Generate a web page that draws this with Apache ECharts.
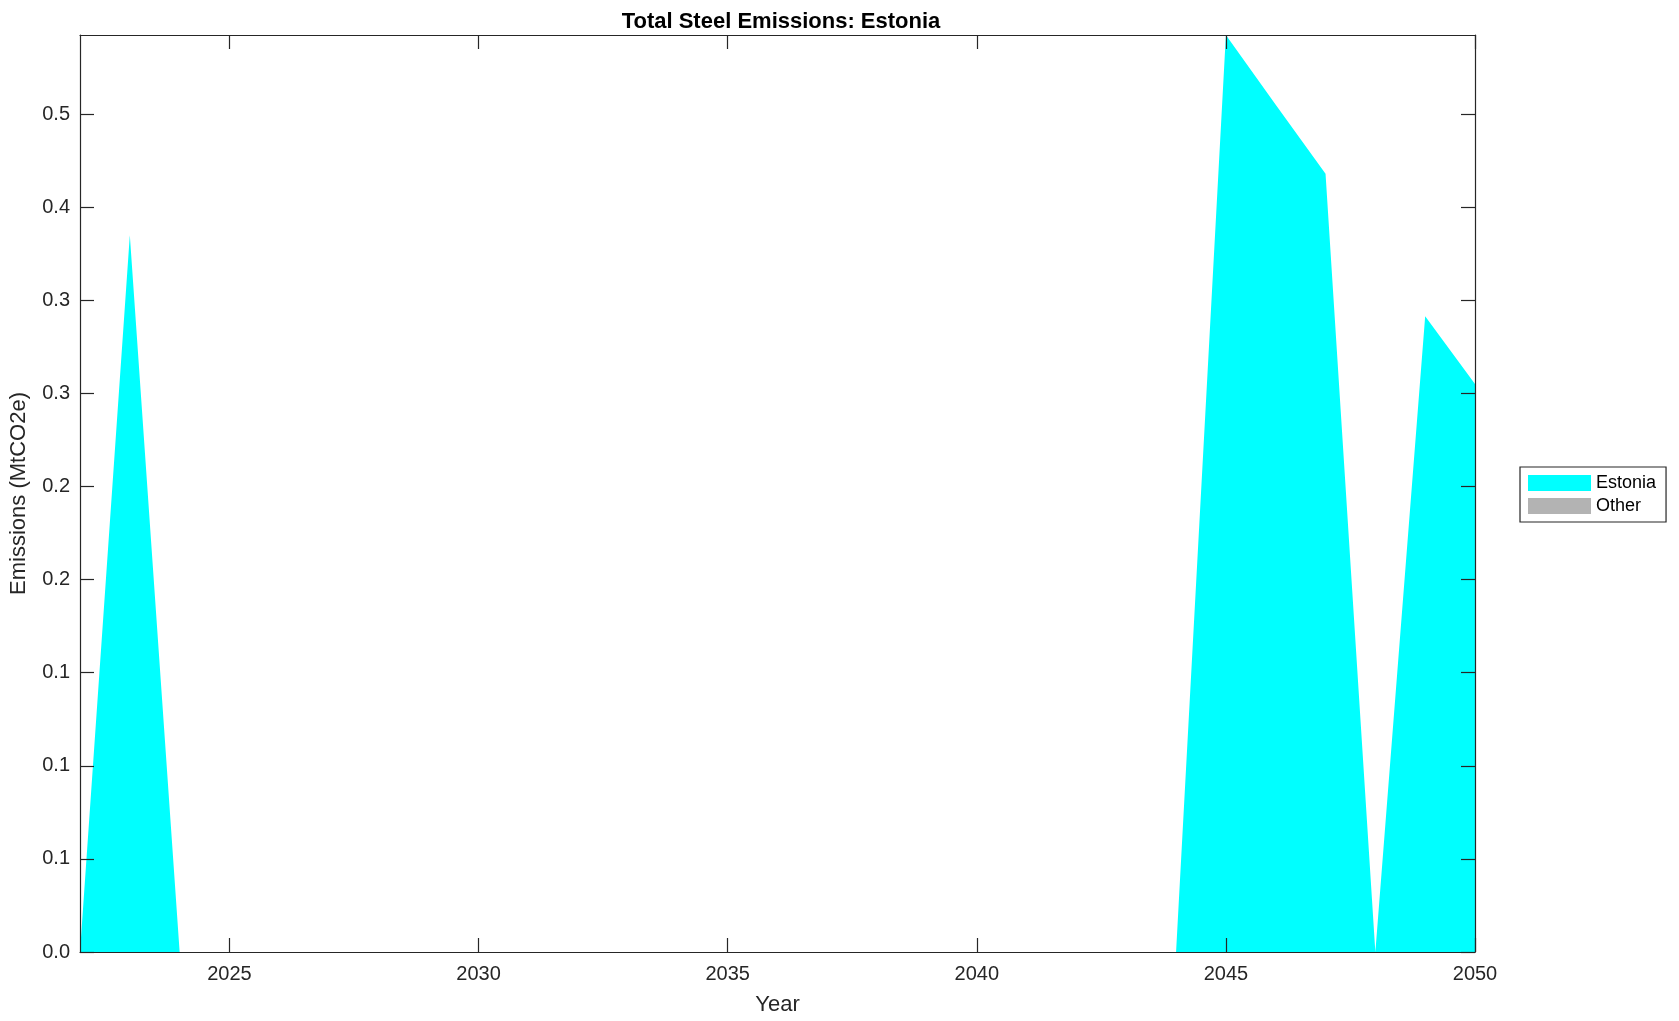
<!DOCTYPE html>
<html>
<head>
<meta charset="utf-8">
<script src="https://cdn.jsdelivr.net/npm/echarts@6/dist/echarts.min.js"></script>
<style>
html,body{margin:0;padding:0;background:#fff;}
#chart{width:1679px;height:1021px;}
</style>
</head>
<body>
<div id="chart"></div>
<script>
const years = [2022,2023,2024,2025,2026,2027,2028,2029,2030,2031,2032,2033,2034,2035,2036,2037,2038,2039,2040,2041,2042,2043,2044,2045,2046,2047,2048,2049,2050];
const estonia = [0,0.385,0,0,0,0,0,0,0,0,0,0,0,0,0,0,0,0,0,0,0,0,0,0.4925,0.455,0.418,0,0.3415,0.305];
const other = [0,0,0,0,0,0,0,0,0,0,0,0,0,0,0,0,0,0,0,0,0,0,0,0,0,0,0,0,0];
const xTickValues = [2025,2030,2035,2040,2045,2050];
const yTickValues = [0,0.05,0.1,0.15,0.2,0.25,0.3,0.35,0.4,0.45];
const yTickLabels = ['0.0','0.1','0.1','0.1','0.2','0.2','0.3','0.3','0.4','0.5'];
const yMax = 0.4925;

const FONT = '"Liberation Sans", Arial, Helvetica, sans-serif';
const AX = '#262626';
const chart = echarts.init(document.getElementById('chart'));

function pairs(vals){ return years.map((y,i)=>[y, vals[i]]); }

const commonX = {
  type:'value', min:2022, max:2050, z:5,
  axisLine:{show:true, onZero:false, lineStyle:{color:AX, width:1.2}},
  splitLine:{show:false}
};
const commonY = {
  type:'value', min:0, max:yMax, z:5,
  axisLine:{show:true, onZero:false, lineStyle:{color:AX, width:1.2}},
  splitLine:{show:false}
};

chart.setOption({
  animation:false,
  backgroundColor:'#ffffff',
  title:{
    text:'Total Steel Emissions: Estonia',
    left:776, top:6, textAlign:'center',
    textStyle:{fontFamily:FONT, fontSize:22, fontWeight:'bold', color:'#000'}
  },
  grid:{left:77, top:35, right:204, bottom:68, containLabel:false},
  legend:{
    orient:'vertical', left:1520, top:467,
    padding:[6,10,6,8], itemGap:3, itemWidth:63, itemHeight:16,
    borderColor:AX, borderWidth:1.2, backgroundColor:'#fff',
    icon:'rect',
    textStyle:{fontFamily:FONT, fontSize:18, lineHeight:20, color:'#000'},
    data:['Estonia','Other']
  },
  xAxis:[
    Object.assign({}, commonX, {
      position:'bottom',
      name:'Year', nameLocation:'middle', nameGap:42,
      nameTextStyle:{fontFamily:FONT, fontSize:22, color:AX},
      axisTick:{show:true, inside:true, length:14, customValues:xTickValues, lineStyle:{color:AX, width:1.2}},
      axisLabel:{show:true, customValues:xTickValues, fontFamily:FONT, fontSize:20, color:AX, margin:12,
        formatter:function(v){ return String(Math.round(v)); }}
    }),
    Object.assign({}, commonX, {
      position:'top',
      axisTick:{show:true, inside:true, length:14, customValues:xTickValues, lineStyle:{color:AX, width:1.2}},
      axisLabel:{show:false}
    })
  ],
  yAxis:[
    Object.assign({}, commonY, {
      position:'left',
      name:'Emissions (MtCO2e)', nameLocation:'middle', nameGap:50,
      nameTextStyle:{fontFamily:FONT, fontSize:22, color:AX},
      axisTick:{show:true, inside:true, length:14, customValues:yTickValues, lineStyle:{color:AX, width:1.2}},
      axisLabel:{show:true, customValues:yTickValues, fontFamily:FONT, fontSize:20, color:AX, margin:10,
        formatter:function(v){ const i = Math.round(v/0.05); return yTickLabels[i] !== undefined ? yTickLabels[i] : ''; }}
    }),
    Object.assign({}, commonY, {
      position:'right',
      axisTick:{show:true, inside:true, length:14, customValues:yTickValues, lineStyle:{color:AX, width:1.2}},
      axisLabel:{show:false}
    })
  ],
  series:[
    {
      name:'Estonia', type:'line', stack:'total', data:pairs(estonia),
      xAxisIndex:0, yAxisIndex:0,
      showSymbol:false, symbol:'none', smooth:false,
      itemStyle:{color:'#00ffff'},
      lineStyle:{width:0, color:'#00ffff'},
      areaStyle:{color:'#00ffff', opacity:1},
      z:2
    },
    {
      name:'Other', type:'line', stack:'total', data:pairs(other),
      xAxisIndex:0, yAxisIndex:0,
      showSymbol:false, symbol:'none', smooth:false,
      itemStyle:{color:'#b3b3b3'},
      lineStyle:{width:0, color:'#b3b3b3'},
      areaStyle:{color:'#b3b3b3', opacity:1},
      z:2
    }
  ]
});
</script>
</body>
</html>
